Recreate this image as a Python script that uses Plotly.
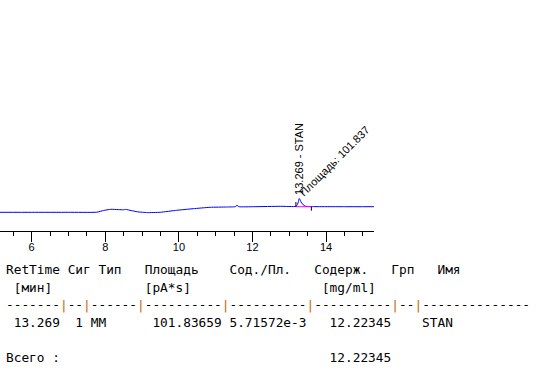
import plotly.graph_objects as go

# ---------------- data ----------------
time_min = [5.14, 6.0, 7.0, 7.77, 7.95, 8.15, 8.35, 8.5, 8.55, 8.7, 8.87, 9.14, 9.49,
            9.94, 10.39, 10.85, 11.3, 11.53, 11.58, 11.63, 12.04, 12.77, 13.18, 13.22,
            13.25, 13.269, 13.29, 13.32, 13.36, 13.40, 13.45, 13.6, 14.5, 15.3]
signal_pa = [1.87, 1.87, 1.87, 1.88, 2.05, 2.17, 2.14, 2.12, 2.16, 2.05, 1.92, 1.84, 1.87,
             2.07, 2.23, 2.37, 2.40, 2.43, 2.57, 2.43, 2.43, 2.47, 2.46, 2.65,
             2.95, 3.25, 3.15, 2.9, 2.7, 2.55, 2.47, 2.44, 2.43, 2.43]

peak_time = 13.269
peak_apex = 3.25
peak_name = "STAN"
peak_area_label = "101.837"
peak_start = 13.18
peak_end = 13.60
peak_base = 2.43
start_tick_top = 2.9
end_tick_bottom = 2.03

x_ticks = [6, 8, 10, 12, 14]

header = ["RetTime", "Сиг", "Тип", "Площадь", "Сод./Пл.", "Содерж.", "Грп", "Имя"]
units = ["[мин]", "", "", "[pA*s]", "", "[mg/ml]", "", ""]
values = ["13.269", "1", "MM", "101.83659", "5.71572e-3", "12.22345", "", "STAN"]
total_label = "Всего :"
total_amount = "12.22345"
sep_widths = [7, 2, 6, 10, 10, 10, 2, 14]

# character columns (layout)
header_pos = [0, 8, 12, 18, 29, 40, 50, 56]
units_pos = [1, 0, 0, 18, 0, 41, 0, 0]
values_pos = [1, 9, 11, 19, 29, 42, 0, 54]
total_pos = [0, 42]

NB = "\u00a0"


def place(tokens, positions):
    s = ""
    for t, p in zip(tokens, positions):
        if not t:
            continue
        if len(s) < p:
            s += " " * (p - len(s))
        s += t
    return s.replace(" ", NB)


def sep_line(widths, bar_color):
    parts = ["-" * w for w in widths]
    bar = f'<span style="color:{bar_color}">|</span>'
    return bar.join(parts)


fig = go.Figure()
fig.add_trace(go.Scatter(x=time_min, y=signal_pa, mode="lines",
                         line=dict(color="#0000ff", width=1, shape="spline", smoothing=0.4),
                         hoverinfo="skip"))
fig.add_trace(go.Scatter(x=[peak_start, peak_end], y=[peak_base, peak_base], mode="lines",
                         line=dict(color="#ff00ff", width=1), hoverinfo="skip"))
fig.add_trace(go.Scatter(x=[peak_start, peak_start], y=[peak_base, start_tick_top], mode="lines",
                         line=dict(color="#000000", width=1), hoverinfo="skip"))
fig.add_trace(go.Scatter(x=[peak_end, peak_end], y=[peak_base, end_tick_bottom], mode="lines",
                         line=dict(color="#000000", width=1), hoverinfo="skip"))

ann_font = dict(family="Liberation Sans, Arial, sans-serif", size=11, color="#000000")
fig.add_annotation(x=peak_time, y=peak_apex, xref="x", yref="y",
                   text=f"{peak_time:.3f} - {peak_name}", textangle=-90, showarrow=False,
                   xanchor="center", yanchor="middle", xshift=0.5, yshift=39.3, font=ann_font)
fig.add_annotation(x=peak_time, y=peak_apex, xref="x", yref="y",
                   text=f"Площадь: {peak_area_label}", textangle=-45, showarrow=False,
                   xanchor="center", yanchor="middle", xshift=35, yshift=38, font=ann_font)

# table
tfont = dict(family="DejaVu Sans Mono, monospace", size=12.8, color="#000000")
PLOT_BOTTOM = 231
X0 = 4.4
rows = [
    (place(header, header_pos), 269.6),
    (place(units, units_pos), 287.3),
    (sep_line(sep_widths, "#cc6600"), 304.9),
    (place(values, values_pos), 322.6),
    (place([total_label, total_amount], total_pos), 357.9),
]
for txt, py in rows:
    fig.add_annotation(x=0, y=0, xref="paper", yref="paper", text=txt, showarrow=False,
                       xanchor="left", yanchor="middle", xshift=X0, yshift=-(py - PLOT_BOTTOM),
                       font=tfont, align="left")

fig.update_layout(
    width=538, height=375,
    margin=dict(l=0, r=164, t=0, b=375 - PLOT_BOTTOM, pad=0),
    paper_bgcolor="white", plot_bgcolor="white",
    showlegend=False,
    xaxis=dict(range=[5.139, 15.302], tickvals=x_ticks, ticks="outside", ticklen=10,
               tickcolor="black", tickwidth=1, showline=True, linecolor="black", linewidth=1,
               showgrid=False, zeroline=False, ticklabelstandoff=-4,
               tickfont=dict(family="Liberation Sans, Arial, sans-serif", size=11, color="black"),
               minor=dict(dtick=0.5, tick0=0, ticks="outside", ticklen=4, tickcolor="black",
                          showgrid=False)),
    yaxis=dict(range=[0, 23.1], visible=False, showgrid=False, zeroline=False),
)

fig.write_html("out.html", config={"displayModeBar": False, "staticPlot": True},
               post_script="document.body.style.margin='0';document.body.style.overflow='hidden';")
